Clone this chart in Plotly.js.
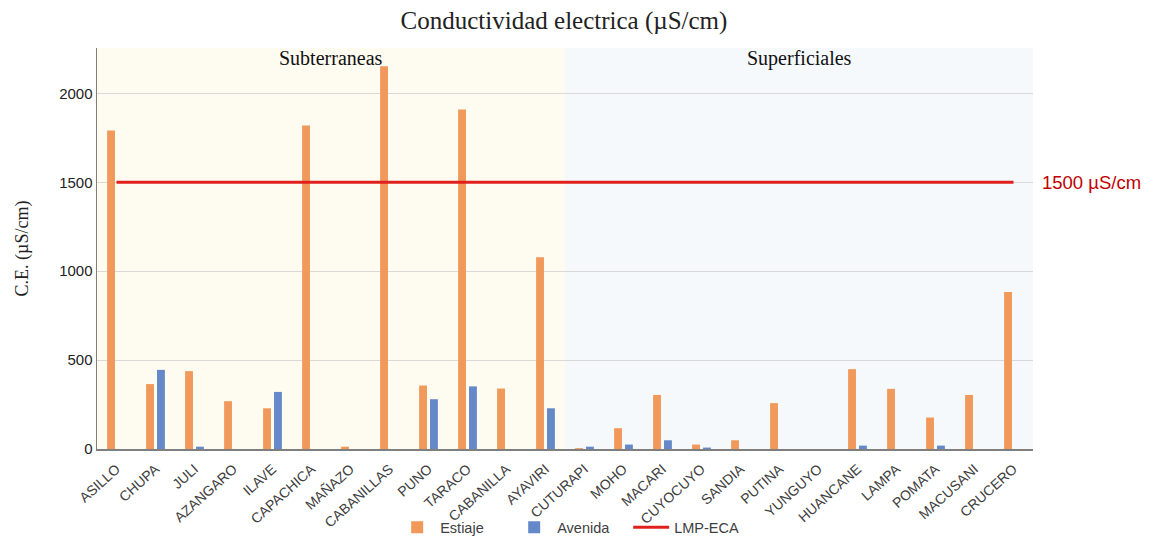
<!DOCTYPE html>
<html>
<head>
<meta charset="utf-8">
<script src="https://cdn.plot.ly/plotly-3.0.1.min.js"></script>
<style>html,body{margin:0;padding:0;background:#fff;}#chart{width:1151px;height:538px;}</style>
</head>
<body>
<div id="chart"></div>
<script>
const categories = ["ASILLO","CHUPA","JULI","AZANGARO","ILAVE","CAPACHICA","MAÑAZO","CABANILLAS","PUNO","TARACO","CABANILLA","AYAVIRI","CUTURAPI","MOHO","MACARI","CUYOCUYO","SANDIA","PUTINA","YUNGUYO","HUANCANE","LAMPA","POMATA","MACUSANI","CRUCERO"];
const estiaje = [1791,365,438,269,229,1819,13,2152,357,1909,340,1078,5,117,304,25,49,258,0,449,338,177,304,883];
const avenida = [0,445,13,0,321,0,0,0,280,352,0,229,13,25,49,8,0,0,0,19,0,19,0,0];
const lmpEca = categories.map(() => 1500);
const groups = [{name:"Subterraneas", from:0, to:11}, {name:"Superficiales", from:12, to:23}];
const groupColors = ["#fefbf0", "#f5f9fc"];

const traces = [
  {type:"bar", name:"Estiaje", x:categories, y:estiaje,
   marker:{color:"#f0995a", line:{width:0}}},
  {type:"bar", name:"Avenida", x:categories, y:avenida,
   marker:{color:"#6589c8", line:{width:0}}},
  {type:"scatter", mode:"lines", name:"LMP-ECA", x:categories, y:lmpEca,
   line:{color:"#e0201c", width:3}}
];

const shapes = groups.map((g, i) => ({
  type:"rect", xref:"x", yref:"paper", x0:g.from-0.5, x1:g.to+0.5, y0:0, y1:1,
  fillcolor:groupColors[i], line:{width:0}, layer:"below"
}));

const annotations = groups.map(g => ({
  xref:"x", yref:"paper", x:(g.from+g.to)/2, y:1.0, yanchor:"top", yshift:3, showarrow:false,
  text:g.name, font:{family:"Liberation Serif", size:20, color:"#111"}
}));
annotations.push({
  xref:"paper", yref:"y", x:1.008, y:1500, xanchor:"left", showarrow:false,
  text:"1500 µS/cm", font:{family:"Liberation Sans", size:18.5, color:"#c00000"}
});

const layout = {
  width:1151, height:538,
  margin:{l:97, r:118, t:48, b:89, autoexpand:false},
  paper_bgcolor:"#ffffff", plot_bgcolor:"rgba(0,0,0,0)",
  title:{text:"Conductividad electrica (µS/cm)", x:0.49, xanchor:"center", y:0.962, yanchor:"middle",
         font:{family:"Liberation Serif", size:25, color:"#222"}},
  barmode:"group", bargap:0.44, bargroupgap:0.28,
  xaxis:{type:"category", tickangle:-42, showgrid:false, showline:true, linecolor:"#7f7f7f", linewidth:1.5,
         ticks:"", ticklabelstandoff:5, automargin:false,
         tickfont:{family:"Liberation Sans", size:14, color:"#404040"}, range:[-0.5, 23.5]},
  yaxis:{range:[0, 2255], tickvals:[0,500,1000,1500,2000], showgrid:true, gridcolor:"#d9d9d9",
         zeroline:false, showline:true, linecolor:"#7f7f7f", linewidth:1.5, ticks:"", automargin:false,
         tickfont:{family:"Liberation Sans", size:15, color:"#222"},
         title:{text:"C.E. (µS/cm)", standoff:26, font:{family:"Liberation Serif", size:18, color:"#222"}}},
  legend:{orientation:"h", x:0.505, xanchor:"center", yref:"container", y:0.02, yanchor:"middle",
          bgcolor:"rgba(0,0,0,0)", itemwidth:36, entrywidth:66, entrywidthmode:"pixels",
          font:{family:"Liberation Sans", size:14.5, color:"#404040"}, traceorder:"normal"},
  shapes:shapes, annotations:annotations, showlegend:true
};

Plotly.newPlot("chart", traces, layout, {displayModeBar:false, staticPlot:true});
</script>
</body>
</html>
